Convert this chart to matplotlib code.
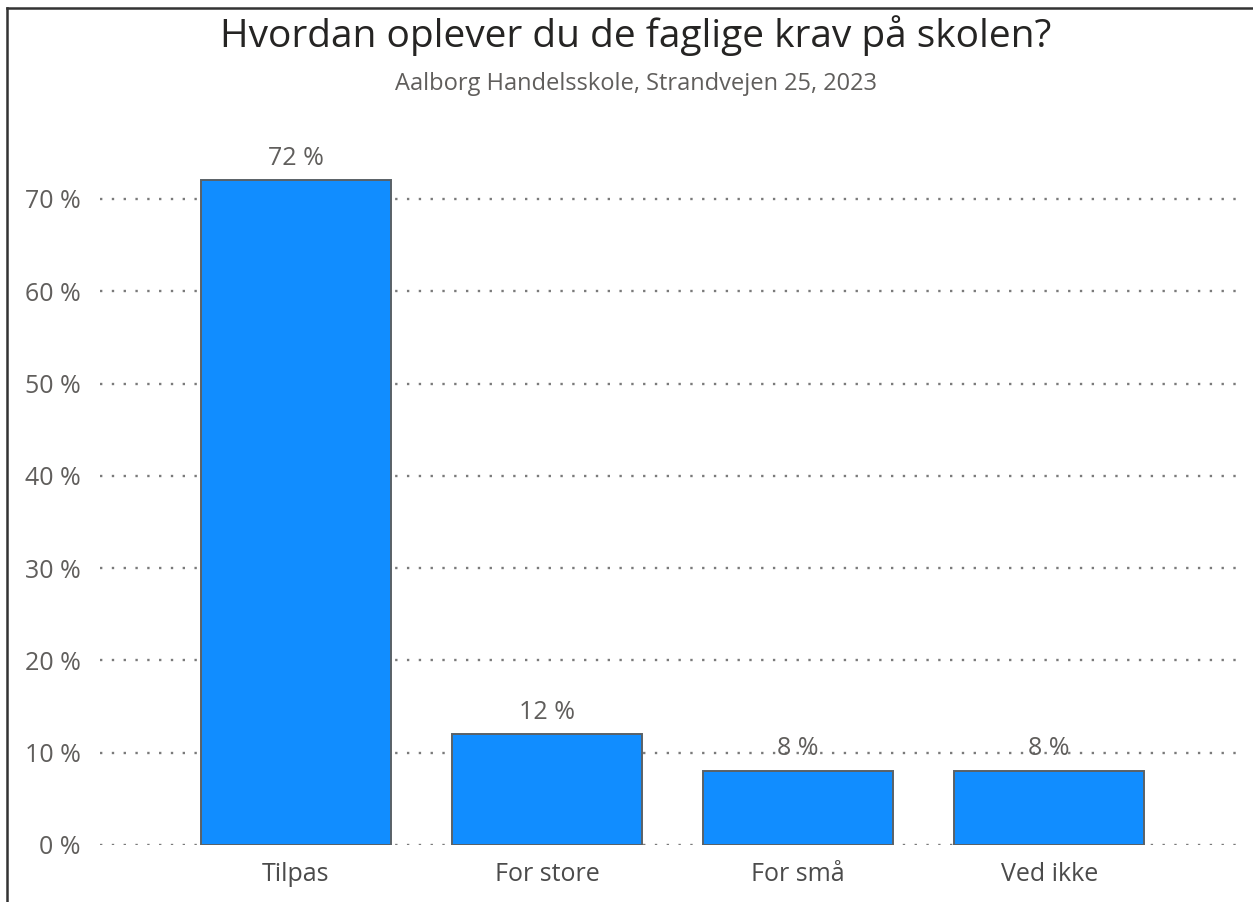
import matplotlib.pyplot as plt
from matplotlib.lines import Line2D

categories = ["Tilpas", "For store", "For små", "Ved ikke"]
values = [72, 12, 8, 8]
yticks = [0, 10, 20, 30, 40, 50, 60, 70]

title = "Hvordan oplever du de faglige krav på skolen?"
subtitle = "Aalborg Handelsskole, Strandvejen 25, 2023"


def main():
    plt.rcParams['font.family'] = ['Open Sans', 'DejaVu Sans']
    fig = plt.figure(figsize=(12.53, 9.02), dpi=100)
    W, H = 1253, 902
    # axes: x from 100 to 1240 px, y=0 at 845 px, 10% = 92.3 px
    top_val = 76
    px_per = 92.3 / 10
    top_px = 845 - top_val * px_per
    ax = fig.add_axes([100 / W, (H - 845) / H, 1140 / W, (845 - top_px) / H])

    x = list(range(len(categories)))
    ax.bar(x, values, width=0.757, color="#118DFF", edgecolor="#5A6166",
           linewidth=1.4, zorder=3)
    for xi, v in zip(x, values):
        ax.annotate(f"{v} %", (xi, v), xytext=(0, 7), textcoords="offset points",
                    ha="center", va="bottom", fontsize=18, color="#605E5C")

    ax.set_xlim(-0.78, 3.76)
    ax.set_ylim(0, top_val)
    ax.set_yticks(yticks)
    ax.set_yticklabels([f"{t} %" for t in yticks])
    ax.set_xticks(x)
    ax.set_xticklabels(categories)
    ax.tick_params(axis="y", length=0, pad=14, labelsize=18, labelcolor="#605E5C")
    ax.tick_params(axis="x", length=0, pad=12, labelsize=18, labelcolor="#4B4B4B")
    ax.grid(axis="y", color="#7A7A7A", linestyle=(0, (1, 4)), linewidth=1.7, zorder=0)
    for s in ax.spines.values():
        s.set_visible(False)

    fig.text(636 / W, 1 - 36 / H, title, ha="center", va="center", fontsize=28,
             fontweight="medium", color="#252423")
    fig.text(636 / W, 1 - 84 / H, subtitle, ha="center", va="center", fontsize=17,
             color="#605E5C")

    # frame at top and left
    fig.add_artist(Line2D([7 / W, 1], [1 - 8 / H, 1 - 8 / H], color="#333333",
                          linewidth=1.8, transform=fig.transFigure))
    fig.add_artist(Line2D([7 / W, 7 / W], [0, 1 - 8 / H], color="#333333",
                          linewidth=1.8, transform=fig.transFigure))

    fig.savefig("out.png", dpi=100)


if __name__ == "__main__":
    main()
